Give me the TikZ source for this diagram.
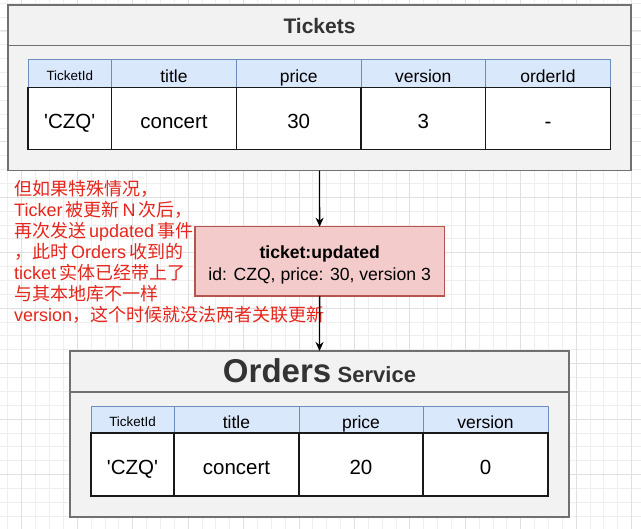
\documentclass[tikz,border=0pt]{standalone}
\usepackage{fontspec}
\setmainfont{Liberation Sans}
\newfontfamily\cjk{Noto Sans CJK SC}
\newfontfamily\latn{Liberation Sans}
\newcommand\nlat[1]{{\latn #1}}
\usetikzlibrary{arrows.meta}
\definecolor{boxfill}{HTML}{F2F2F2}
\definecolor{boxline}{HTML}{707070}
\definecolor{hdrfill}{HTML}{DAE8FC}
\definecolor{hdrline}{HTML}{6C8EBF}
\definecolor{evfill}{HTML}{F3CBCB}
\definecolor{evline}{HTML}{B85450}
\definecolor{redtxt}{RGB}{228,38,28}
\definecolor{titletxt}{HTML}{333333}
\definecolor{gridminor}{HTML}{EEEEEE}
\definecolor{gridmajor}{HTML}{E0E0E0}
\tikzset{
  container/.style={draw=boxline, fill=boxfill, line width=1.3pt, inner sep=0pt, outer sep=0pt, anchor=north west},
  hdrcell/.style={draw=hdrline, fill=hdrfill, line width=1pt, inner sep=0pt, outer sep=0pt, anchor=north west, font=\fontsize{17.5}{20}\selectfont, text=black, text height=19pt, text depth=1.5pt},
  smallhdr/.style={font=\fontsize{13.4}{16}\selectfont, text height=14.5pt, text depth=1.1pt},
  bodycell/.style={draw=black!90, fill=white, line width=1.4pt, inner sep=0pt, outer sep=0pt, anchor=north west, font=\fontsize{20.5}{24}\selectfont, text=black, text height=22pt, text depth=1.5pt},
  evbox/.style={draw=evline, fill=evfill, line width=1.2pt, inner sep=0pt, outer sep=0pt, anchor=north west},
  evtext/.style={align=center, inner sep=0pt, font=\fontsize{17.6}{22.3}\selectfont},
  arr/.style={-{Stealth[length=9pt,width=8pt]}, line width=1.3pt, black},
  sepline/.style={draw=boxline, line width=1.3pt}
}
\newcommand\mkcell[7]{\node[#6, minimum width=#4pt, minimum height=#5pt] (#1) at (#2,#3) {#7};}
\newcommand\sq{\textquotesingle}
\begin{document}
\begin{tikzpicture}[x=1pt,y=-1pt]
\useasboundingbox (0,0) rectangle (641,529);
\fill[white] (0,0) rectangle (641,529);
% grid
\foreach \i in {0,...,46} {
  \pgfmathsetmacro\gx{7.84+\i*13.86}
  \draw[gridminor, line width=0.7pt] (\gx,0) -- (\gx,529);
}
\foreach \i in {0,...,38} {
  \pgfmathsetmacro\gy{3.2+\i*13.86}
  \draw[gridminor, line width=0.7pt] (0,\gy) -- (641,\gy);
}
\foreach \i in {0,...,11} {
  \pgfmathsetmacro\gx{21.7+\i*55.45}
  \draw[gridmajor, line width=0.8pt] (\gx,0) -- (\gx,529);
}
\foreach \i in {0,...,9} {
  \pgfmathsetmacro\gy{30.9+\i*55.45}
  \draw[gridmajor, line width=0.8pt] (0,\gy) -- (641,\gy);
}

% Tickets container
\node[container, minimum width=623pt, minimum height=165.7pt] (tk) at (8,5) {};
\draw[sepline] (tk.west |- 0,45.7) -- (tk.east |- 0,45.7);
\node[font=\fontsize{21}{24}\selectfont\bfseries, text=titletxt] (tktitle) at (319.5,26) {Tickets};

% Tickets table header
\mkcell{th1}{28}{60}{83.5}{27.5}{hdrcell,smallhdr}{TicketId}
\mkcell{th2}{111.5}{60}{125}{27.5}{hdrcell}{title}
\mkcell{th3}{236.5}{60}{124.5}{27.5}{hdrcell}{price}
\mkcell{th4}{361}{60}{124.5}{27.5}{hdrcell}{version}
\mkcell{th5}{485.5}{60}{125}{27.5}{hdrcell}{orderId}
% Tickets table body
\mkcell{tb1}{28}{87.5}{83.5}{62}{bodycell}{\sq CZQ\sq}
\mkcell{tb2}{111.5}{87.5}{125}{62}{bodycell}{concert}
\mkcell{tb3}{236.5}{87.5}{124.5}{62}{bodycell}{30}
\mkcell{tb4}{361}{87.5}{124.5}{62}{bodycell}{3}
\mkcell{tb5}{485.5}{87.5}{125}{62}{bodycell}{-}

% Event box
\node[evbox, minimum width=249.3pt, minimum height=69.3pt] (evt) at (195,226.7) {};
\node[evtext, yshift=-3.5pt] (evtxt) at (evt.center)
  {\textbf{ticket:updated}\\id: CZQ, price: 30, version 3};

% Red note
\node[anchor=north west, inner sep=0pt, align=left, text=redtxt,
      font=\cjk\fontsize{18}{21}\selectfont] (note) at (14,180.5)
  {但如果特殊情况，\\
   \nlat{Ticker}\hspace{3pt}被更新\hspace{3pt}\nlat{N}\hspace{3pt}次后，\\
   再次发送\hspace{3pt}\nlat{updated}\hspace{3pt}事件\\
   ，此时\hspace{3pt}\nlat{Orders}\hspace{3pt}收到的\\
   \nlat{ticket}\hspace{3pt}实体已经带上了\\
   与其本地库不一样\\
   \nlat{version}，这个时候就没法两者关联更新};

% Orders container
\node[container, minimum width=499pt, minimum height=166pt] (ord) at (70,351) {};
\draw[sepline] (ord.west |- 0,392) -- (ord.east |- 0,392);
\node[anchor=base, inner sep=0pt, text=titletxt] (ordtitle) at (319.5,383)
  {{\fontsize{33}{36}\selectfont\bfseries Orders}\hspace{6.5pt}{\fontsize{22}{24}\selectfont\bfseries Service}};

% Orders table header
\mkcell{oh1}{91}{407}{83}{26}{hdrcell,smallhdr}{TicketId}
\mkcell{oh2}{174}{407}{125}{26}{hdrcell}{title}
\mkcell{oh3}{299}{407}{124}{26}{hdrcell}{price}
\mkcell{oh4}{423}{407}{125}{26}{hdrcell}{version}
% Orders table body
\mkcell{ob1}{91}{433}{83}{63}{bodycell}{\sq CZQ\sq}
\mkcell{ob2}{174}{433}{125}{63}{bodycell}{concert}
\mkcell{ob3}{299}{433}{124}{63}{bodycell}{20}
\mkcell{ob4}{423}{433}{125}{63}{bodycell}{0}

% Connectors
\draw[arr] (tk.south) -- (evt.north);
\draw[arr] (evt.south) -- (ord.north);
\end{tikzpicture}
\end{document}
